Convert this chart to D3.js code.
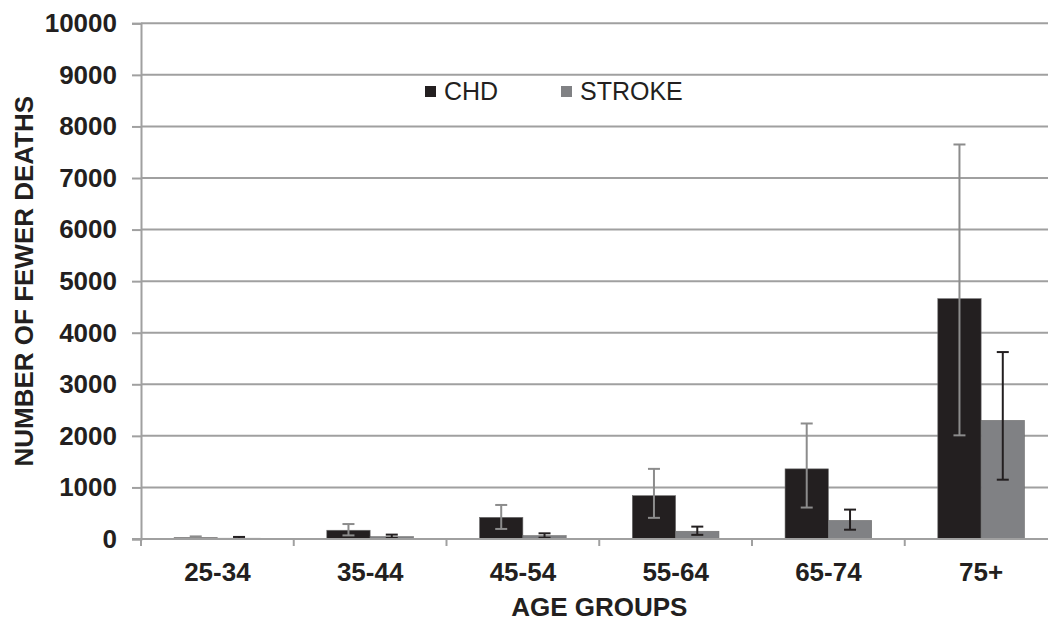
<!DOCTYPE html>
<html>
<head>
<meta charset="utf-8">
<script src="https://cdn.jsdelivr.net/npm/d3@7"></script>
<style>
  body { margin: 0; background: #fff; }
  text { font-family: "Liberation Sans", Arial, sans-serif; fill: #231f20; }
</style>
</head>
<body>
<div id="chart"></div>
<script>
// values
const ageGroups = ["25-34", "35-44", "45-54", "55-64", "65-74", "75+"];
const series = ["CHD", "STROKE"];
const chdValues = [25, 170, 420, 840, 1360, 4660];
const chdLow = [5, 70, 195, 410, 610, 2010];
const chdHigh = [50, 290, 660, 1360, 2240, 7650];
const strokeValues = [15, 45, 65, 150, 360, 2300];
const strokeLow = [5, 20, 25, 80, 180, 1150];
const strokeHigh = [40, 85, 110, 240, 570, 3625];
const yTicks = [0, 1000, 2000, 3000, 4000, 5000, 6000, 7000, 8000, 9000, 10000];

const W = 1048, H = 621;
const plot = { left: 141, right: 1057.5, top: 23.3, bottom: 539 };

const colors = { CHD: "#231f20", STROKE: "#808184" };
const errColors = { CHD: "#8c8c8c", STROKE: "#231f20" };
const gridColor = "#a0a0a0";

const svg = d3.select("#chart")
    .append("svg")
    .attr("width", W)
    .attr("height", H);

const x0 = d3.scaleBand()
    .domain(ageGroups)
    .range([plot.left, plot.right])
    .paddingInner(0)
    .paddingOuter(0);

const x1 = d3.scaleBand()
    .domain(series)
    .range([0, x0.bandwidth()])
    .paddingInner(0)
    .paddingOuter(0.763);

const y = d3.scaleLinear()
    .domain([0, 10000])
    .range([plot.bottom, plot.top]);

// gridlines
svg.append("g")
    .selectAll("line")
    .data(yTicks)
    .enter().append("line")
    .attr("x1", plot.left)
    .attr("x2", W)
    .attr("y1", d => y(d))
    .attr("y2", d => y(d))
    .attr("stroke", gridColor)
    .attr("stroke-width", 2);

// y axis (short ticks to the left + labels)
const yAxis = svg.append("g")
    .attr("transform", `translate(${plot.left},0)`)
    .call(d3.axisLeft(y).tickValues(yTicks).tickSize(9).tickPadding(15).tickFormat(d3.format("d")));
yAxis.select(".domain").attr("stroke", gridColor).attr("stroke-width", 2);
yAxis.selectAll(".tick line").attr("stroke", gridColor).attr("stroke-width", 2);
yAxis.selectAll(".tick text")
    .style("font-size", "26px")
    .style("font-weight", "bold")
    .attr("fill", "#231f20");

// data rows
const rows = ageGroups.map((g, i) => ({
    group: g,
    items: [
        { key: "CHD", value: chdValues[i], lo: chdLow[i], hi: chdHigh[i] },
        { key: "STROKE", value: strokeValues[i], lo: strokeLow[i], hi: strokeHigh[i] }
    ]
}));

const groups = svg.append("g")
    .selectAll("g")
    .data(rows)
    .enter().append("g")
    .attr("transform", d => `translate(${x0(d.group)},0)`);

groups.selectAll("rect")
    .data(d => d.items)
    .enter().append("rect")
    .attr("x", d => x1(d.key))
    .attr("y", d => y(d.value))
    .attr("width", x1.bandwidth())
    .attr("height", d => y(0) - y(d.value))
    .attr("fill", d => colors[d.key])
    .attr("stroke", "#6d6d6d")
    .attr("stroke-width", 0.6);

// x axis line + boundary ticks
svg.append("line")
    .attr("x1", plot.left - 9)
    .attr("x2", W)
    .attr("y1", y(0))
    .attr("y2", y(0))
    .attr("stroke", gridColor)
    .attr("stroke-width", 2);

const bounds = ageGroups.map(g => x0(g)).concat([plot.right]);
svg.append("g")
    .selectAll("line")
    .data(bounds)
    .enter().append("line")
    .attr("x1", d => d)
    .attr("x2", d => d)
    .attr("y1", y(0))
    .attr("y2", y(0) + 7)
    .attr("stroke", gridColor)
    .attr("stroke-width", 2);

// error bars
const err = groups.selectAll(".err")
    .data(d => d.items)
    .enter().append("g")
    .attr("class", "err")
    .attr("stroke", d => errColors[d.key])
    .attr("stroke-width", 2);
const cx = d => x1(d.key) + x1.bandwidth() / 2;
err.append("line")
    .attr("x1", cx).attr("x2", cx)
    .attr("y1", d => y(d.lo)).attr("y2", d => y(d.hi));
err.append("line")
    .attr("x1", d => cx(d) - 6).attr("x2", d => cx(d) + 6)
    .attr("y1", d => y(d.hi)).attr("y2", d => y(d.hi));
err.append("line")
    .attr("x1", d => cx(d) - 6).attr("x2", d => cx(d) + 6)
    .attr("y1", d => y(d.lo)).attr("y2", d => y(d.lo));

// x tick labels
svg.append("g")
    .selectAll("text")
    .data(ageGroups)
    .enter().append("text")
    .attr("x", d => x0(d) + x0.bandwidth() / 2)
    .attr("y", 581)
    .attr("text-anchor", "middle")
    .style("font-size", "26px")
    .style("font-weight", "bold")
    .text(d => d);

// axis titles
svg.append("text")
    .attr("x", (plot.left + plot.right) / 2)
    .attr("y", 616)
    .attr("text-anchor", "middle")
    .style("font-size", "26px")
    .style("font-weight", "bold")
    .text("AGE GROUPS");

svg.append("text")
    .attr("transform", "rotate(-90)")
    .attr("x", -(plot.top + plot.bottom) / 2)
    .attr("y", 33)
    .attr("text-anchor", "middle")
    .style("font-size", "26px")
    .style("font-weight", "bold")
    .text("NUMBER OF FEWER DEATHS");

// legend
const legendPos = { CHD: 425, STROKE: 561 };
const legend = svg.append("g")
    .selectAll("g")
    .data(series)
    .enter().append("g")
    .attr("transform", d => `translate(${legendPos[d]},0)`);
legend.append("rect")
    .attr("x", 0)
    .attr("y", 86)
    .attr("width", 11)
    .attr("height", 11)
    .attr("fill", d => colors[d]);
legend.append("text")
    .attr("x", 19)
    .attr("y", 99.5)
    .style("font-size", "25px")
    .text(d => d);
</script>
</body>
</html>
